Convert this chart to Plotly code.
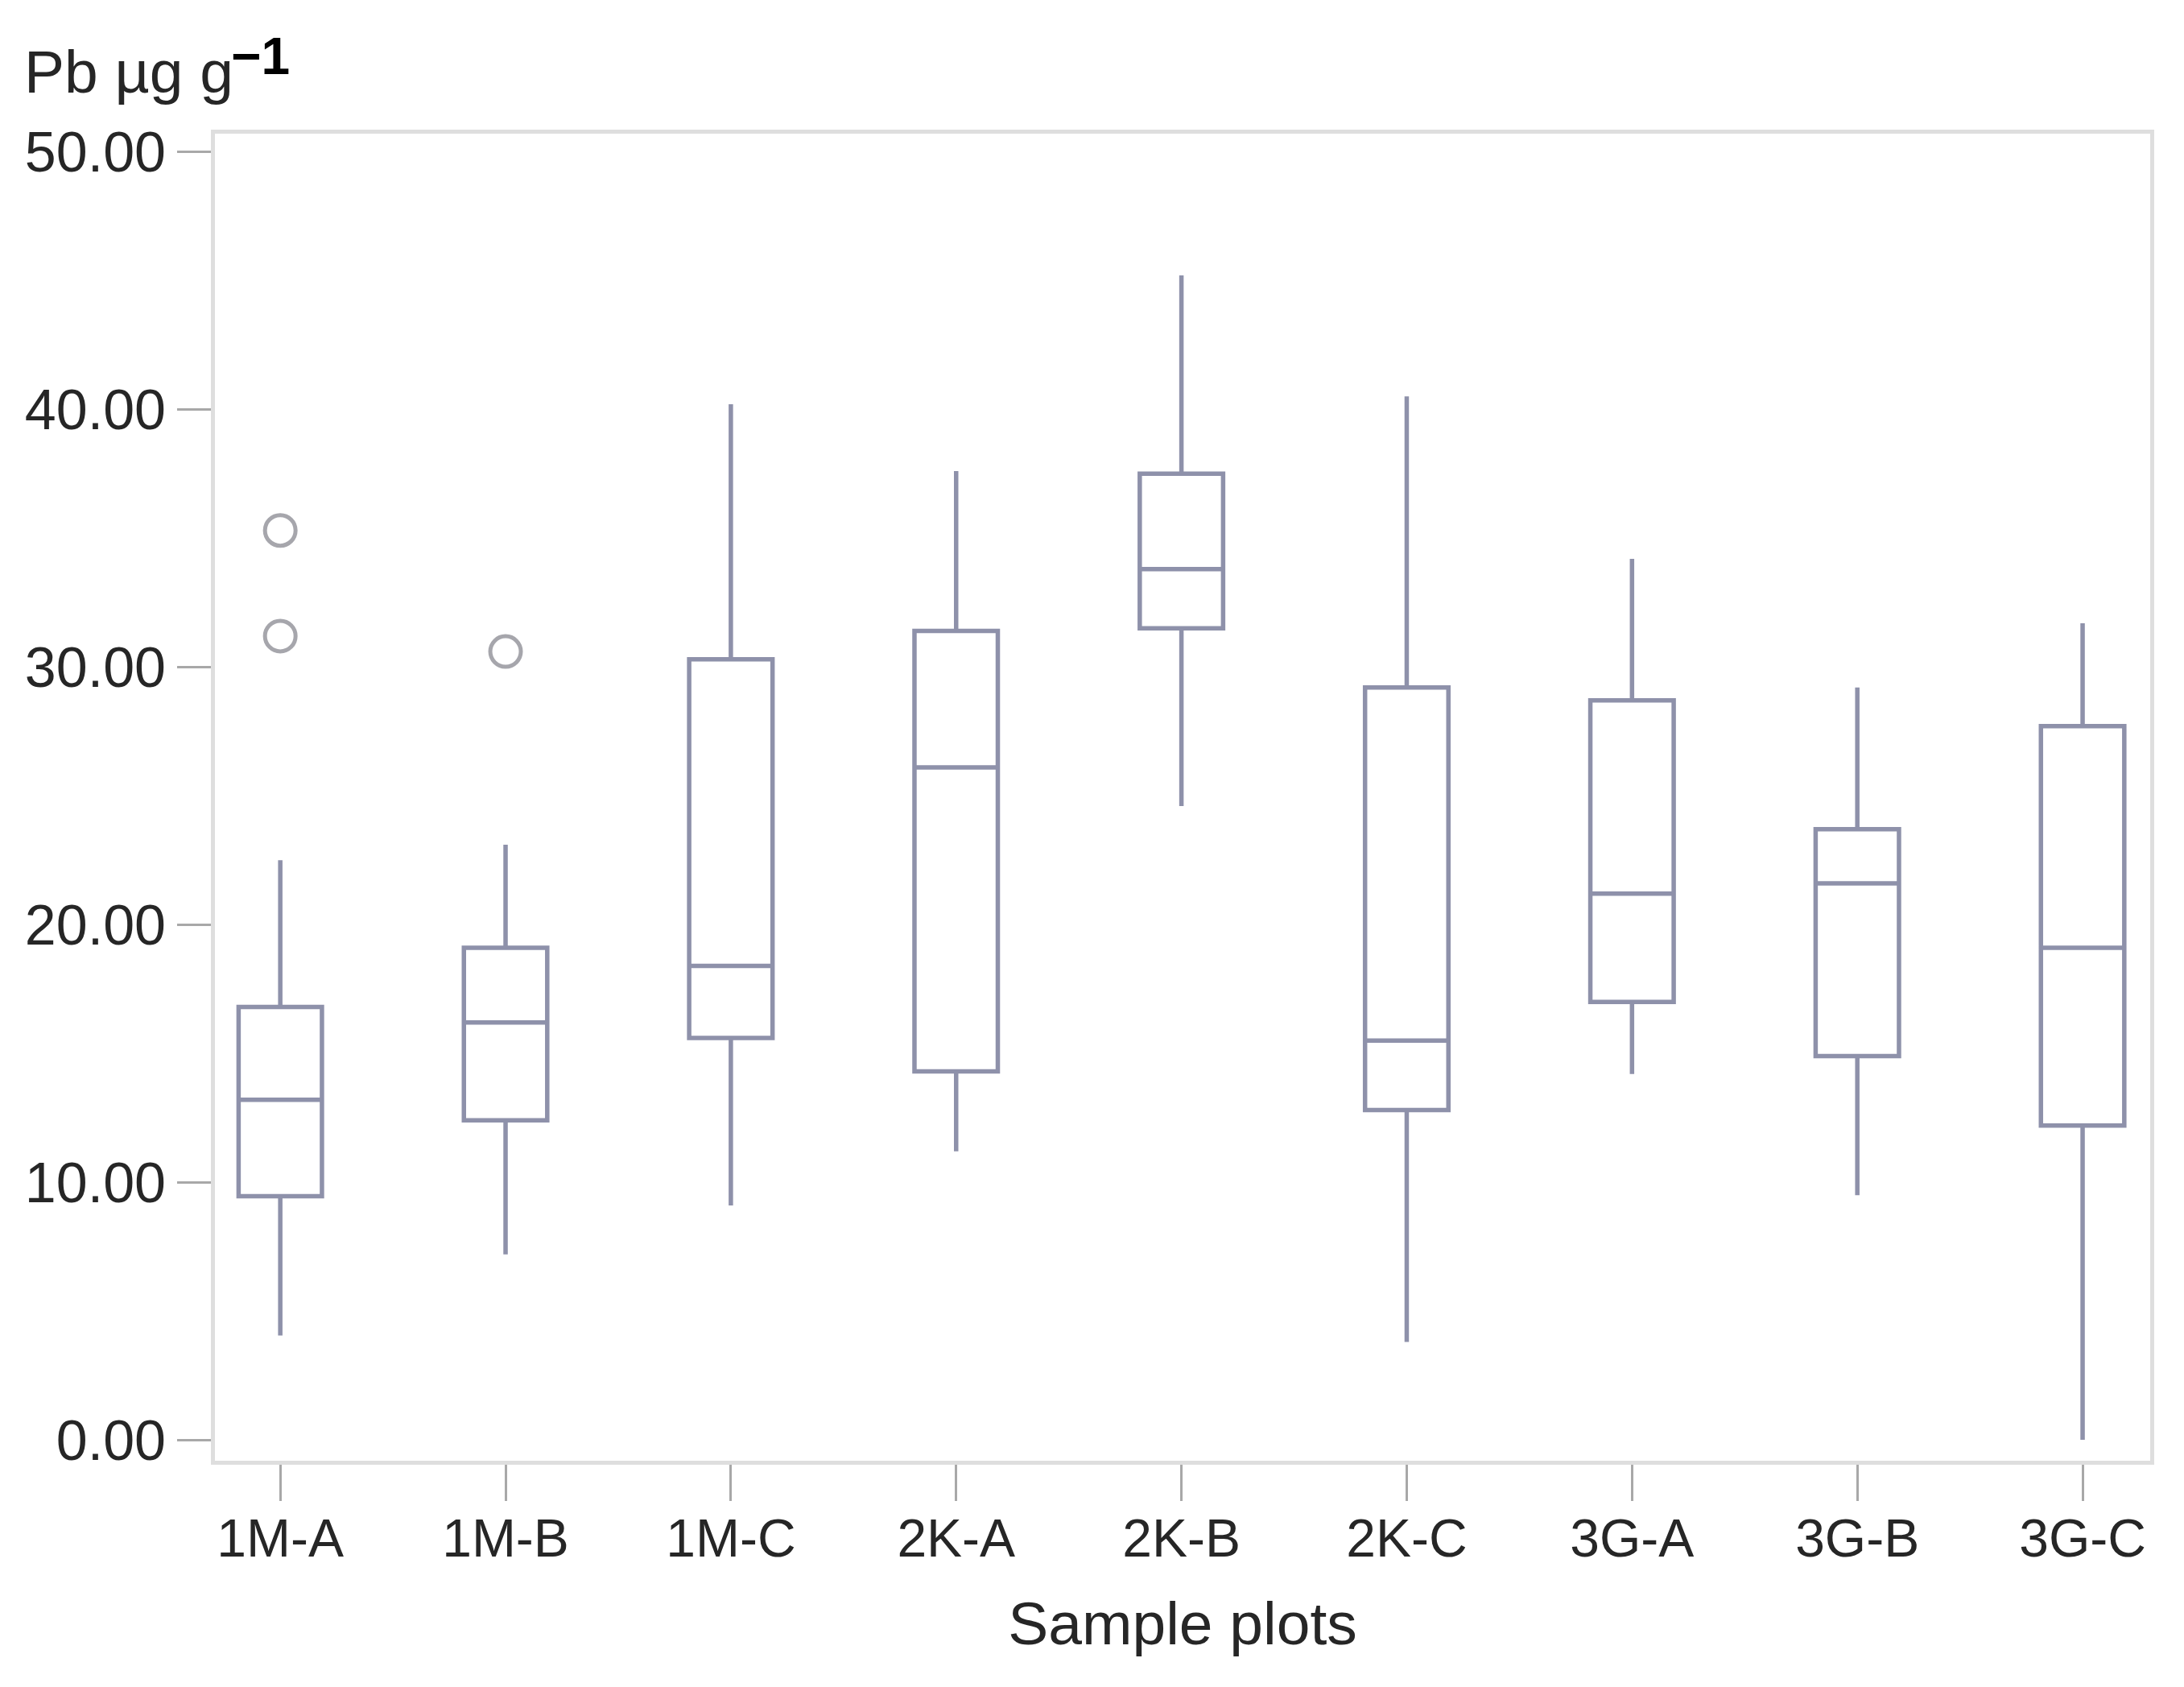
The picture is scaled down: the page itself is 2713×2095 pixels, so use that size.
import plotly.graph_objects as go

categories = ["1M-A", "1M-B", "1M-C", "2K-A", "2K-B", "2K-C", "3G-A", "3G-B", "3G-C"]
lower_whisker = [4.05, 7.2, 9.1, 11.2, 24.6, 3.8, 14.2, 9.5, 0.0]
q1_vals = [9.46, 12.4, 15.6, 14.3, 31.5, 12.8, 17.0, 14.9, 12.2]
median_vals = [13.2, 16.2, 18.4, 26.1, 33.8, 15.5, 21.2, 21.6, 19.1]
q3_vals = [16.8, 19.1, 30.3, 31.4, 37.5, 29.2, 28.7, 23.7, 27.7]
upper_whisker = [22.5, 23.1, 40.2, 37.6, 45.2, 40.5, 34.2, 29.2, 31.7]
outlier_cats = ["1M-A", "1M-A", "1M-B"]
outlier_vals = [35.3, 31.2, 30.6]
y_ticks = [0, 10, 20, 30, 40, 50]

BOX_COLOR = "#8e91aa"
TEXT_COLOR = "#262626"
FONT = "Liberation Sans"

fig = go.Figure()
fig.add_trace(go.Box(
    x=categories,
    q1=q1_vals,
    median=median_vals,
    q3=q3_vals,
    lowerfence=lower_whisker,
    upperfence=upper_whisker,
    width=0.37,
    whiskerwidth=0,
    fillcolor="rgba(255,255,255,0)",
    line=dict(color=BOX_COLOR, width=5.5),
    boxpoints=False,
    showlegend=False,
    hoverinfo="skip",
))
fig.add_trace(go.Scatter(
    x=outlier_cats,
    y=outlier_vals,
    mode="markers",
    marker=dict(symbol="circle-open", size=38, color="#a6a6ac", line=dict(width=5, color="#a6a6ac")),
    showlegend=False,
    hoverinfo="skip",
))

fig.update_layout(
    width=2713,
    height=2095,
    autosize=False,
    margin=dict(l=259, r=50, t=158, b=289),
    paper_bgcolor="white",
    plot_bgcolor="white",
    font=dict(family=FONT, color=TEXT_COLOR, size=66),
    xaxis=dict(
        type="category",
        categoryorder="array",
        categoryarray=categories,
        range=[-0.29, 8.3],
        showline=True,
        mirror=True,
        linecolor="#dedede",
        linewidth=5,
        showgrid=False,
        zeroline=False,
        ticks="outside",
        ticklen=45,
        tickwidth=3,
        tickcolor="#a8a8a8",
        ticklabelstandoff=-10,
        tickfont=dict(size=66, family=FONT, color=TEXT_COLOR),
        title=dict(text="Sample plots", font=dict(size=75, family=FONT, color=TEXT_COLOR), standoff=45),
    ),
    yaxis=dict(
        range=[-0.81, 50.7],
        tickvals=y_ticks,
        tickformat=".2f",
        showline=True,
        mirror=True,
        linecolor="#dedede",
        linewidth=5,
        showgrid=False,
        zeroline=False,
        ticks="outside",
        ticklen=42,
        tickwidth=3,
        tickcolor="#a8a8a8",
        tickfont=dict(size=70, family=FONT, color=TEXT_COLOR),
    ),
    annotations=[
        dict(
            text="Pb µg g",
            xref="paper", yref="paper",
            x=-0.0995, y=1.047,
            xanchor="left", yanchor="middle",
            showarrow=False,
            font=dict(size=75, family=FONT, color=TEXT_COLOR),
        ),
        dict(
            text="−1",
            xref="paper", yref="paper",
            x=0.0075, y=1.058,
            xanchor="left", yanchor="middle",
            showarrow=False,
            font=dict(size=64, family=FONT, color="#000000", weight="bold"),
        ),
    ],
)

fig.write_html("out.html")
